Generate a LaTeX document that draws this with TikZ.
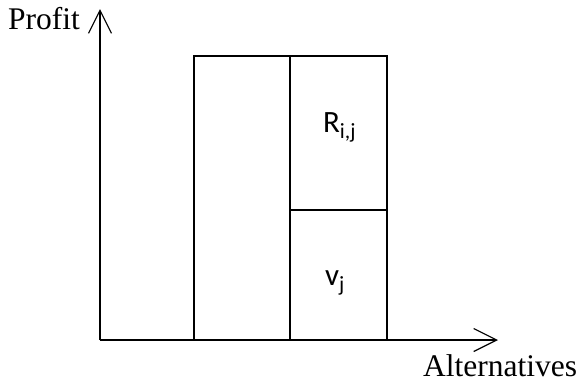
\documentclass[tikz,border=0pt]{standalone}
\usepackage{fontspec}
\setmainfont{Liberation Serif}
\newfontfamily\calfont{Carlito}
\usetikzlibrary{arrows.meta}
\begin{document}
\begin{tikzpicture}[x=1pt,y=-1pt,
  axis/.style={line width=1.4pt, -{Straight Barb[length=23pt,width=23pt,line width=1.2pt]}},
  cell/.style={draw, line width=1.8pt, inner sep=0pt, outer sep=0pt},
  axlabel/.style={font=\fontsize{31.5}{31.5}\selectfont, inner sep=0pt, anchor=base west},
  celllabel/.style={font=\calfont\fontsize{31}{31}\selectfont, inner sep=0pt, anchor=base}]
\useasboundingbox (0,0) rectangle (577,384);
\coordinate (O) at (100,340);
\coordinate (ytop) at (100,9);
\coordinate (xend) at (498,340);
\draw[axis] (O) -- (ytop);
\draw[axis] (O) -- (xend);
\node[cell, minimum width=96pt, minimum height=284pt] (left) at (242,198) {};
\node[cell, minimum width=97pt, minimum height=154pt] (rbox) at (338.5,133) {};
\node[cell, minimum width=97pt, minimum height=130pt] (vbox) at (338.5,275) {};
\node[celllabel] (rlab) at (339.5,132) {R\textsubscript{i,j}};
\node[celllabel] (vlab) at (335,285) {v\textsubscript{j}};
\node[axlabel] (profit) at (8,29) {Profit};
\node[axlabel] (alt) at (423,376) {Alternatives};
\end{tikzpicture}
\end{document}
